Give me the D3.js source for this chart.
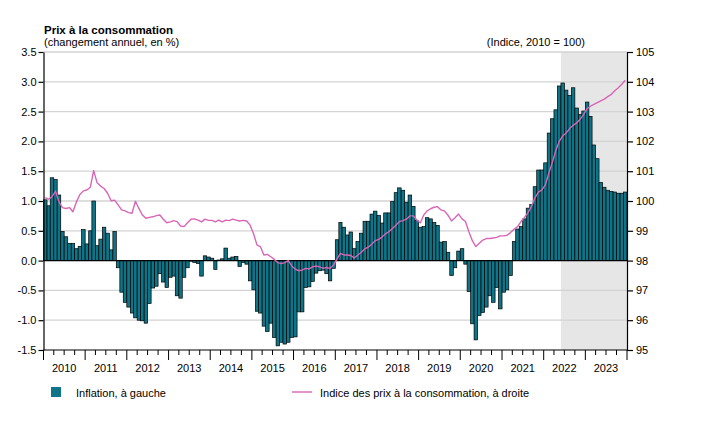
<!DOCTYPE html>
<html><head><meta charset="utf-8">
<script src="https://cdn.jsdelivr.net/npm/d3@7"></script>
<style>
body{margin:0;background:#fff}
svg{display:block;font-family:"Liberation Sans Narrow","Arial Narrow","Liberation Sans",Arial,sans-serif}
</style></head><body>
<svg id="chart" width="705" height="423"></svg>
<script>
// ---- data ----
const startYear = 2010;
const endYear = 2023;
const inflation = [
 1.02,0.92,1.39,1.36,1.10,0.49,0.40,0.29,0.29,0.20,0.24,0.52,
 0.28,0.50,1.00,0.25,0.36,0.56,0.46,0.18,0.49,-0.12,-0.53,-0.70,
 -0.78,-0.88,-0.96,-1.00,-1.01,-1.05,-0.72,-0.46,-0.43,-0.22,-0.36,-0.45,
 -0.28,-0.26,-0.59,-0.63,-0.28,-0.12,-0.01,-0.03,-0.05,-0.26,0.08,0.06,
 0.04,-0.15,0.01,0.03,0.21,0.04,0.06,0.07,-0.10,-0.03,-0.06,-0.34,
 -0.49,-0.85,-0.88,-1.10,-1.19,-1.05,-1.29,-1.43,-1.37,-1.40,-1.37,-1.29,
 -1.28,-0.86,-0.86,-0.45,-0.44,-0.35,-0.21,-0.17,-0.16,-0.22,-0.34,-0.13,
 0.35,0.64,0.56,0.43,0.48,0.20,0.32,0.46,0.66,0.66,0.78,0.83,
 0.76,0.63,0.80,0.80,0.99,1.14,1.22,1.18,0.98,1.10,0.91,0.67,
 0.56,0.57,0.72,0.70,0.64,0.59,0.31,0.32,0.14,-0.25,-0.12,0.16,
 0.20,-0.06,-0.52,-1.06,-1.33,-0.92,-0.87,-0.78,-0.59,-0.70,-0.45,-0.81,
 -0.53,-0.49,-0.25,0.32,0.53,0.57,0.70,0.88,0.94,1.24,1.52,1.52,
 1.64,2.14,2.38,2.53,2.93,2.98,2.86,2.77,2.90,2.56,2.45,2.51,
 2.66,2.42,1.94,1.71,1.31,1.23,1.18,1.16,1.15,1.13,1.13,1.15
];
const cpi = [
 100.11,100.06,100.14,100.33,99.97,99.78,99.75,99.78,99.64,99.97,100.22,100.34,
 100.37,100.46,101.02,100.61,100.50,100.42,100.26,100.01,100.03,99.87,99.70,99.67,
 99.61,99.59,99.99,99.75,99.53,99.42,99.45,99.47,99.51,99.53,99.39,99.27,
 99.30,99.34,99.31,99.16,99.14,99.27,99.39,99.40,99.36,99.30,99.39,99.35,
 99.35,99.30,99.36,99.30,99.36,99.34,99.39,99.36,99.33,99.35,99.33,99.19,
 98.89,98.52,98.47,98.19,98.21,98.13,98.04,97.93,97.90,97.93,98.00,97.82,
 97.71,97.66,97.68,97.74,97.72,97.79,97.82,97.79,97.74,97.77,97.74,97.85,
 98.06,98.24,98.19,98.19,98.17,98.09,98.18,98.28,98.39,98.45,98.55,98.67,
 98.71,98.79,98.90,98.97,99.08,99.19,99.31,99.34,99.39,99.50,99.50,99.36,
 99.27,99.53,99.67,99.74,99.79,99.81,99.70,99.66,99.52,99.33,99.44,99.56,
 99.40,99.31,98.97,98.67,98.47,98.58,98.69,98.74,98.74,98.76,98.78,98.83,
 98.83,98.85,98.94,99.05,99.14,99.31,99.45,99.60,99.82,100.11,100.30,100.37,
 100.55,100.94,101.28,101.68,102.00,102.18,102.28,102.43,102.54,102.62,102.74,102.90,
 103.10,103.18,103.24,103.30,103.36,103.42,103.50,103.58,103.70,103.80,103.92,104.05
];
const leftTicks = [-1.5,-1.0,-0.5,0.0,0.5,1.0,1.5,2.0,2.5,3.0,3.5];
const rightTicks = [95,96,97,98,99,100,101,102,103,104,105];
const yearLabels = d3.range(startYear, endYear + 1);
const shadeStart = {year: 2022, month: 5}; // month index (0-based)
const title = "Prix à la consommation";
const leftUnit = "(changement annuel, en %)";
const rightUnit = "(Indice, 2010 = 100)";
const legendBar = "Inflation, à gauche";
const legendLine = "Indice des prix à la consommation, à droite";

// ---- layout ----
const L = 43.5, R = 627, T = 52, B = 350;
const barColor = "#0e7487", lineColor = "#d866b6";

const svg = d3.select("#chart");
const months = inflation.map((_, i) => new Date(startYear, i, 1));
const x = d3.scaleTime().domain([new Date(startYear,0,1), new Date(endYear+1,0,1)]).range([L, R]);
const yL = d3.scaleLinear().domain([-1.5, 3.5]).range([B, T]);
const yR = d3.scaleLinear().domain([95, 105]).range([B, T]);

// shading
svg.append("rect")
  .attr("x", x(new Date(shadeStart.year, shadeStart.month, 1)))
  .attr("y", T).attr("width", R - x(new Date(shadeStart.year, shadeStart.month, 1)))
  .attr("height", B - T).attr("fill", "#e6e6e6");

// gridlines
svg.append("g").selectAll("line").data(leftTicks.filter(d => d !== -1.5 && d !== 0))
  .join("line")
  .attr("x1", L).attr("x2", R)
  .attr("y1", d => yL(d)).attr("y2", d => yL(d))
  .attr("stroke", "#d3d3d3").attr("stroke-width", 1.3);

// bars
svg.append("g").selectAll("rect").data(inflation).join("rect")
  .attr("x", (d, i) => x(months[i]))
  .attr("width", (d, i) => x(new Date(startYear, i + 1, 1)) - x(months[i]))
  .attr("y", d => yL(Math.max(0, d)))
  .attr("height", d => Math.abs(yL(d) - yL(0)))
  .attr("fill", barColor).attr("stroke", "#000").attr("stroke-width", 0.7);

// zero line
svg.append("line").attr("x1", L).attr("x2", R).attr("y1", yL(0)).attr("y2", yL(0))
  .attr("stroke", "#000").attr("stroke-width", 1.2);

// cpi line
const line = d3.line()
  .x((d, i) => (x(months[i]) + x(new Date(startYear, i + 1, 1))) / 2)
  .y(d => yR(d));
svg.append("path").datum(cpi).attr("d", line)
  .attr("fill", "none").attr("stroke", lineColor).attr("stroke-width", 1.4)
  .attr("stroke-linejoin", "round");

// axes
const fs = "11px";
const axL = svg.append("g").attr("transform", `translate(${L},0)`)
  .call(d3.axisLeft(yL).tickValues(leftTicks).tickSize(5).tickSizeOuter(0).tickFormat(d => d.toFixed(1)));
const axR = svg.append("g").attr("transform", `translate(${R},0)`)
  .call(d3.axisRight(yR).tickValues(rightTicks).tickSize(6).tickSizeOuter(0).tickFormat(d3.format("d")));
[axL, axR].forEach(a => {
  a.selectAll("text").attr("font-size", fs).attr("fill", "#000").style("font-family", "inherit");
  a.selectAll("line,path").attr("stroke", "#000").attr("stroke-width", 1.2);
});
axL.selectAll("text").attr("x", -7);
axR.selectAll("text").attr("x", 9);

// bottom axis
const gB = svg.append("g");
gB.append("line").attr("x1", L).attr("x2", R).attr("y1", B).attr("y2", B)
  .attr("stroke", "#000").attr("stroke-width", 1.2);
const qTicks = d3.timeMonth.every(3).range(new Date(startYear,0,1), new Date(endYear+1,0,2));
gB.selectAll("line.t").data(qTicks).join("line").attr("class", "t")
  .attr("x1", d => x(d)).attr("x2", d => x(d))
  .attr("y1", B).attr("y2", d => B + (d.getMonth() === 0 ? 10 : 5))
  .attr("stroke", "#000").attr("stroke-width", 1);
gB.selectAll("text").data(yearLabels).join("text")
  .attr("x", d => x(new Date(d, 6, 1))).attr("y", 372)
  .attr("text-anchor", "middle").attr("font-size", fs).text(d => d);

// titles
svg.append("text").attr("x", 44).attr("y", 34).attr("font-size", "11.5px").attr("font-weight", "bold").text(title);
svg.append("text").attr("x", 44).attr("y", 46).attr("font-size", fs).text(leftUnit);
svg.append("text").attr("x", 585).attr("y", 46).attr("text-anchor", "end").attr("font-size", fs).text(rightUnit);

// legend
svg.append("rect").attr("x", 51).attr("y", 387).attr("width", 10).attr("height", 10).attr("fill", barColor);
svg.append("text").attr("x", 76).attr("y", 396.5).attr("font-size", fs).text(legendBar);
svg.append("line").attr("x1", 292).attr("x2", 312).attr("y1", 392).attr("y2", 392)
  .attr("stroke", lineColor).attr("stroke-width", 1.4);
svg.append("text").attr("x", 320).attr("y", 396.5).attr("font-size", fs).text(legendLine);
</script>
</body></html>
